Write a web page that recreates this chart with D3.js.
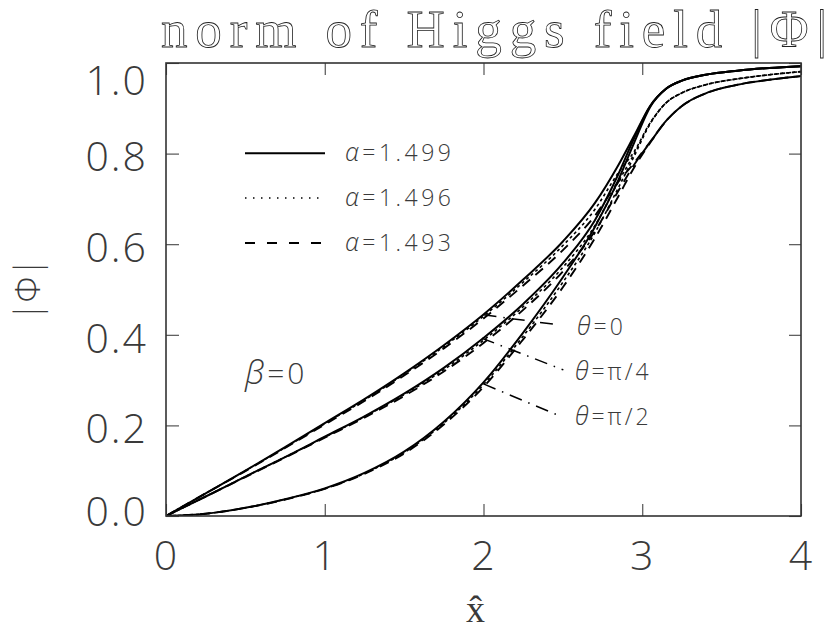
<!DOCTYPE html>
<html><head><meta charset="utf-8">
<script src="https://cdn.jsdelivr.net/npm/d3@7"></script>
<style>
html,body{margin:0;padding:0;background:#fff;}
svg{display:block;}
</style></head>
<body>
<svg id="chart" width="834" height="630"></svg>
<script>
// ---- data ----
const xGrid = [0, 0.25, 0.5, 0.75, 1.0, 1.25, 1.5, 1.75, 2.0, 2.25, 2.5, 2.7, 2.85, 2.95, 3.05, 3.15, 3.25, 3.4, 3.6, 3.8, 4.0];
// theta = 0
const th0_a1499 = [0, .050, .100, .152, .205, .258, .315, .377, .445, .522, .606, .690, .775, .840, .905, .943, .961, .974, .983, .989, .993];
const th0_a1496 = [0, .050, .100, .151, .204, .256, .313, .374, .441, .516, .597, .676, .758, .805, .868, .912, .934, .952, .965, .974, .981];
const th0_a1493 = [0, .050, .099, .150, .202, .254, .310, .370, .436, .509, .587, .662, .738, .780, .826, .872, .905, .933, .952, .963, .971];
// theta = pi/4
const th4_a1499 = [0, .043, .087, .130, .175, .220, .270, .327, .393, .468, .558, .652, .755, .835, .905, .943, .961, .974, .983, .989, .993];
const th4_a1496 = [0, .043, .087, .130, .174, .219, .268, .323, .388, .462, .549, .640, .738, .800, .867, .912, .934, .952, .965, .974, .981];
const th4_a1493 = [0, .043, .086, .129, .173, .217, .265, .319, .382, .455, .540, .628, .718, .776, .825, .872, .905, .933, .952, .963, .971];
// theta = pi/2
const th2_a1499 = [0, .005, .018, .037, .061, .095, .142, .208, .295, .405, .527, .637, .742, .825, .903, .943, .961, .974, .983, .989, .993];
const th2_a1496 = [0, .005, .018, .037, .060, .094, .140, .205, .290, .397, .516, .624, .725, .795, .866, .912, .934, .952, .965, .974, .981];
const th2_a1493 = [0, .005, .018, .036, .060, .093, .138, .202, .285, .390, .505, .612, .706, .770, .824, .872, .905, .933, .952, .963, .971];

const alphaLabels = ["1.499", "1.496", "1.493"];
const thetaLabels = ["0", "π/4", "π/2"];
const xTicks = [0, 1, 2, 3, 4];
const yTicks = [0, 0.2, 0.4, 0.6, 0.8, 1.0];

// ---- layout ----
const svg = d3.select("#chart");
const L = 166, R = 801, T = 63, B = 516;
const x = d3.scaleLinear().domain([0, 4]).range([L, R]);
const y = d3.scaleLinear().domain([0, 1]).range([B, T]);

const styles = [
  {dash: null, w: 2.0},
  {dash: "3,3", w: 1.6},
  {dash: "10,7", w: 1.9}
];
const legendDash = [null, "1.5,6.5", "10,12"];

const series = [
  [th0_a1499, 0], [th0_a1496, 1], [th0_a1493, 2],
  [th4_a1499, 0], [th4_a1496, 1], [th4_a1493, 2],
  [th2_a1499, 0], [th2_a1496, 1], [th2_a1493, 2]
];

const line = d3.line().x(d => x(d[0])).y(d => y(d[1])).curve(d3.curveMonotoneX);

svg.append("defs").append("clipPath").attr("id", "clip")
  .append("rect").attr("x", L).attr("y", T).attr("width", R - L).attr("height", B - T);

const plot = svg.append("g").attr("clip-path", "url(#clip)");
series.forEach(([vals, s]) => {
  plot.append("path")
    .attr("d", line(xGrid.map((xv, i) => [xv, vals[i]])))
    .attr("fill", "none")
    .attr("stroke", "#000")
    .attr("stroke-width", styles[s].w)
    .attr("stroke-dasharray", styles[s].dash)
    .attr("stroke-linejoin", "round");
});

// ---- axes ----
const tickFont = "'Open Sans', 'DejaVu Sans', sans-serif";
const greekFont = "'Open Sans', 'DejaVu Sans', sans-serif";
const txtCol = "#3a3a3a";
const axB = svg.append("g").attr("transform", `translate(0,${B})`)
  .call(d3.axisBottom(x).tickValues(xTicks).tickFormat(d3.format("d")).tickSizeInner(-12).tickSizeOuter(0).tickPadding(25));
const axT = svg.append("g").attr("transform", `translate(0,${T})`)
  .call(d3.axisTop(x).tickValues(xTicks).tickFormat("").tickSizeInner(-12).tickSizeOuter(0));
const axL = svg.append("g").attr("transform", `translate(${L},0)`)
  .call(d3.axisLeft(y).tickValues(yTicks).tickFormat(d3.format(".1f")).tickSizeInner(-13).tickSizeOuter(0).tickPadding(18));
const axR = svg.append("g").attr("transform", `translate(${R},0)`)
  .call(d3.axisRight(y).tickValues(yTicks).tickFormat("").tickSizeInner(-12).tickSizeOuter(0));

[axB, axT, axL, axR].forEach(g => {
  g.select(".domain").remove();
  g.selectAll(".tick line").attr("stroke", "#444").attr("stroke-width", 1.1);
  g.selectAll("text").attr("font-family", tickFont).attr("font-weight", 300)
    .attr("font-size", 41).attr("fill", txtCol).attr("letter-spacing", 2);
});
axL.selectAll(".tick text").attr("dy", d => d === 1 ? "0.78em" : (d === 0 ? "0.22em" : "0.42em"));

svg.append("rect").attr("x", L).attr("y", T).attr("width", R - L).attr("height", B - T)
  .attr("fill", "none").attr("stroke", "#333").attr("stroke-width", 1.6);

// ---- titles ----
svg.append("text").attr("x", 161).attr("y", 47)
  .attr("font-family", "'Liberation Serif', 'DejaVu Serif', serif").attr("font-size", 53)
  .attr("fill", "none").attr("stroke", "#222").attr("stroke-width", 0.8)
  .attr("textLength", 666).attr("lengthAdjust", "spacing")
  .text("norm of Higgs field |Φ|");

svg.append("text").attr("x", (L + R) / 2 - 8).attr("y", 622).attr("text-anchor", "middle")
  .attr("font-family", "'Liberation Serif', 'DejaVu Serif', serif").attr("font-size", 38)
  .attr("fill", txtCol).text("x\u0302");

svg.append("text").attr("transform", `translate(40,${(T + B) / 2}) rotate(-90)`)
  .attr("text-anchor", "middle")
  .attr("font-family", tickFont).attr("font-weight", 300).attr("font-size", 34).attr("fill", txtCol)
  .text("|Φ|");

// ---- legend ----
const labFont = tickFont;
const legY = [0.801, 0.702, 0.6024];
function greek(t, ch, size) {
  t.append("tspan").attr("font-family", greekFont).attr("font-style", "italic")
    .attr("font-weight", 300).attr("font-size", size).text(ch);
}
alphaLabels.forEach((a, i) => {
  svg.append("line").attr("x1", x(0.4976)).attr("x2", x(1.0016))
    .attr("y1", y(legY[i])).attr("y2", y(legY[i]))
    .attr("stroke", "#000").attr("stroke-width", i === 1 ? 1.6 : 2)
    .attr("stroke-dasharray", legendDash[i]);
  const t = svg.append("text").attr("x", 345).attr("y", y(legY[i])).attr("dy", "0.36em")
    .attr("font-family", labFont).attr("font-weight", 300).attr("font-size", 23).attr("fill", txtCol)
    .attr("letter-spacing", 3.5);
  greek(t, "α", 25);
  t.append("tspan").text("=" + a);
});

// ---- theta annotations ----
const leaders = [
  {from: [2.0, 0.444], to: [2.471, 0.422], lab: [2.589, 0.4175]},
  {from: [1.99, 0.3925], to: [2.503, 0.3225], lab: [2.576, 0.318]},
  {from: [2.0, 0.2916], to: [2.493, 0.219], lab: [2.576, 0.2187]}
];
leaders.forEach((l, i) => {
  svg.append("line").attr("x1", x(l.from[0])).attr("y1", y(l.from[1]))
    .attr("x2", x(l.to[0])).attr("y2", y(l.to[1]))
    .attr("stroke", "#000").attr("stroke-width", 1.5).attr("stroke-dasharray", "13,7,1.5,7");
  const t = svg.append("text").attr("x", x(l.lab[0])).attr("y", y(l.lab[1])).attr("dy", "0.36em")
    .attr("font-family", labFont).attr("font-weight", 300).attr("font-size", 23).attr("fill", txtCol)
    .attr("letter-spacing", 3);
  greek(t, "θ", 25);
  t.append("tspan").text("=" + thetaLabels[i]);
});

const bt = svg.append("text").attr("x", x(0.498)).attr("y", 373).attr("dy", "0.36em")
  .attr("font-family", labFont).attr("font-weight", 300).attr("font-size", 30).attr("fill", txtCol)
  .attr("letter-spacing", 3);
greek(bt, "β", 33);
bt.append("tspan").text("=0");
</script>
</body></html>
